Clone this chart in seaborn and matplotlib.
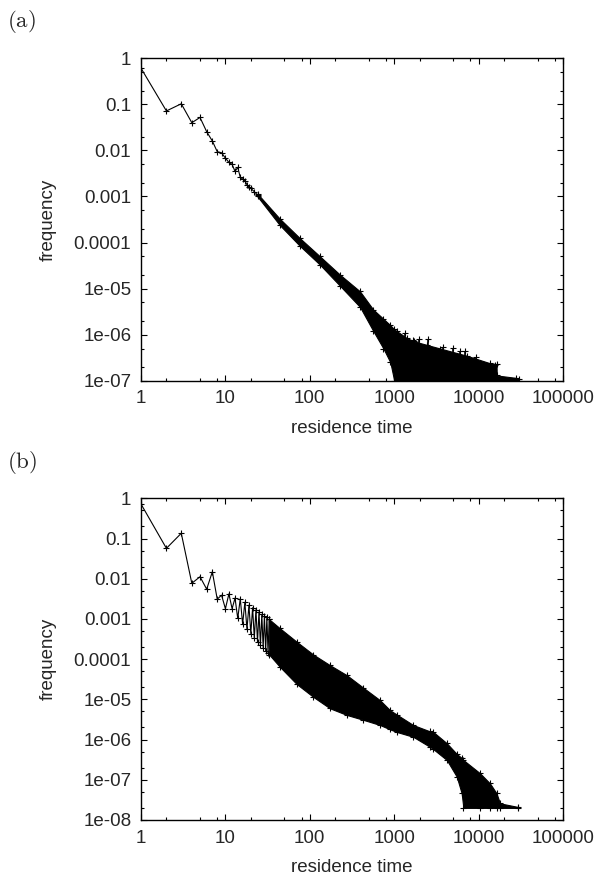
import matplotlib
matplotlib.use('Agg')
import matplotlib.pyplot as plt
import matplotlib.ticker as mticker
import seaborn as sns

# Panel (a): first points, drawn one by one
a_x = [1, 2, 3, 4, 5, 6, 7, 8, 9, 10, 11, 12, 13, 14, 15, 16, 17, 18, 19, 20, 22, 24]
a_y = [0.61, 0.072, 0.103, 0.040, 0.052, 0.0255, 0.016, 0.0094, 0.0089, 0.0068,
       0.0055, 0.0050, 0.0035, 0.0043, 0.0026, 0.0024, 0.0022, 0.0018, 0.0016,
       0.0015, 0.00127, 0.00108]
# Panel (a): dense part, upper and lower edge of the black band
a_band_x = [24, 44, 76, 132, 228, 393, 565, 745, 900, 1000, 1070, 1400, 1700,
            2430, 3500, 7200, 13600, 16300, 16400, 28000, 30000]
a_band_hi = [1.15e-3, 3.3e-4, 1.25e-4, 5.0e-5, 2.0e-5, 8.7e-6, 3.5e-6, 2.2e-6,
             1.6e-6, 1.3e-6, 1.2e-6, 8.5e-7, 7.2e-7, 6.0e-7, 5.0e-7, 3.5e-7,
             2.4e-7, 2.3e-7, 1.3e-7, 1.15e-7, 1.1e-7]
a_band_lo = [1.0e-3, 2.4e-4, 8.5e-5, 3.3e-5, 1.15e-5, 4.0e-6, 1.2e-6, 5.0e-7,
             2.5e-7, 1e-7, 1e-7, 1e-7, 1e-7, 1e-7, 1e-7, 1e-7, 1e-7, 1e-7,
             1e-7, 1e-7, 1e-7]
# Panel (a): isolated spikes above the band
a_spike_x = [1340, 1660, 1990, 2540, 3800, 5000, 6000, 6900, 9300, 15600]
a_spike_y = [1.1e-6, 7.6e-7, 7.9e-7, 7.9e-7, 5.5e-7, 5.2e-7, 4.5e-7, 4.5e-7, 3.2e-7, 2.2e-7]

# Panel (b): first points (zigzag between odd and even times)
b_x = list(range(1, 34))
b_y = [0.72, 0.057, 0.135, 0.0077, 0.0112, 0.0055, 0.0149, 0.0031, 0.0039, 0.0018,
       0.0042, 0.0018, 0.0033, 0.00103, 0.0032, 0.00074, 0.0026, 0.00055, 0.0022,
       0.00043, 0.0019, 0.00033, 0.0017, 0.00027, 0.0015, 0.00022, 0.0013,
       0.00019, 0.0012, 0.00016, 0.0011, 0.00014, 0.00098]
# Panel (b): dense band
b_band_x = [33, 44, 70, 110, 173, 274, 430, 680, 890, 1070, 1680, 2650, 2900,
            4200, 5500, 6300, 6600, 10400, 13650, 16300, 17900, 29600]
b_band_hi = [9.8e-4, 5.9e-4, 2.7e-4, 1.3e-4, 7.1e-5, 4.0e-5, 1.95e-5, 9.5e-6,
             5.4e-6, 4.2e-6, 2.3e-6, 1.6e-6, 1.55e-6, 8.1e-7, 4.4e-7, 3.5e-7,
             3.1e-7, 1.45e-7, 8.1e-8, 4.6e-8, 2.6e-8, 2.1e-8]
b_band_lo = [1.3e-4, 6.5e-5, 2.4e-5, 1.15e-5, 6.0e-6, 4.1e-6, 3.1e-6, 2.3e-6,
             1.8e-6, 1.55e-6, 1.17e-6, 6.6e-7, 5.8e-7, 3.1e-7, 1.2e-7, 4.6e-8,
             2e-8, 2e-8, 2e-8, 2e-8, 2e-8, 2e-8]

x_ticks = [1, 10, 100, 1000, 10000, 100000]
x_labels = ['1', '10', '100', '1000', '10000', '100000']
a_yticks = [1, 0.1, 0.01, 0.001, 0.0001, 1e-5, 1e-6, 1e-7]
a_ylabels = ['1', '0.1', '0.01', '0.001', '0.0001', '1e-05', '1e-06', '1e-07']
b_yticks = [1, 0.1, 0.01, 0.001, 0.0001, 1e-5, 1e-6, 1e-7, 1e-8]
b_ylabels = ['1', '0.1', '0.01', '0.001', '0.0001', '1e-05', '1e-06', '1e-07', '1e-08']

sns.set_style('ticks')
plt.rcParams['font.family'] = ['Liberation Sans', 'DejaVu Sans']
plt.rcParams['mathtext.fontset'] = 'cm'

FS = 13.5
MK = dict(marker='+', markersize=5, markeredgewidth=0.8, color='black')


def draw_panel(ax, xs, ys, bx, bhi, blo, ymin, yticks, ylabels, spx=None, spy=None):
    sns.lineplot(x=xs, y=ys, ax=ax, estimator=None, sort=False, color='black',
                 linewidth=0.8, marker='+', markersize=5, markeredgewidth=0.8,
                 markeredgecolor='black')
    ax.fill_between(bx, blo, bhi, color='black', linewidth=0.8)
    ax.plot(bx, bhi, ls='none', **MK)
    ax.plot(bx, blo, ls='none', **MK)
    if spx is not None:
        ax.vlines(spx, ymin, spy, color='black', linewidth=1.2)
        ax.plot(spx, spy, ls='none', **MK)
    ax.set_xscale('log')
    ax.set_yscale('log')
    ax.set_xlim(1, 1e5)
    ax.set_ylim(ymin, 1)
    ax.xaxis.set_major_locator(mticker.FixedLocator(x_ticks))
    ax.xaxis.set_major_formatter(mticker.FixedFormatter(x_labels))
    ax.xaxis.set_minor_locator(mticker.LogLocator(base=10, subs=(2, 5, 8), numticks=20))
    ax.xaxis.set_minor_formatter(mticker.NullFormatter())
    ax.yaxis.set_major_locator(mticker.FixedLocator(yticks))
    ax.yaxis.set_major_formatter(mticker.FixedFormatter(ylabels))
    ax.yaxis.set_minor_locator(mticker.LogLocator(base=10, subs=(2, 5), numticks=20))
    ax.yaxis.set_minor_formatter(mticker.NullFormatter())
    ax.tick_params(which='both', direction='in', top=True, right=True,
                   labelsize=FS, width=0.8, color='black')
    ax.tick_params(which='major', length=4, pad=7)
    ax.tick_params(which='minor', length=2.2)
    for s in ax.spines.values():
        s.set_linewidth(1.0)
        s.set_color('black')
    ax.set_xlabel('residence time', fontsize=FS, labelpad=9)
    ax.set_ylabel('frequency', fontsize=FS, labelpad=12)


fig = plt.figure(figsize=(5.98, 8.77), dpi=100)
ax_a = fig.add_axes([0.2358, 0.5659, 0.7057, 0.3676])
ax_b = fig.add_axes([0.2358, 0.0650, 0.7057, 0.3668])

draw_panel(ax_a, a_x, a_y, a_band_x, a_band_hi, a_band_lo, 1e-7,
           a_yticks, a_ylabels, a_spike_x, a_spike_y)
draw_panel(ax_b, b_x, b_y, b_band_x, b_band_hi, b_band_lo, 1e-8,
           b_yticks, b_ylabels)

fig.text(0.012, 0.975, r'$\mathrm{(a)}$', fontsize=16.5, va='center', ha='left')
fig.text(0.012, 0.473, r'$\mathrm{(b)}$', fontsize=16.5, va='center', ha='left')

fig.savefig('out.png', dpi=100)
